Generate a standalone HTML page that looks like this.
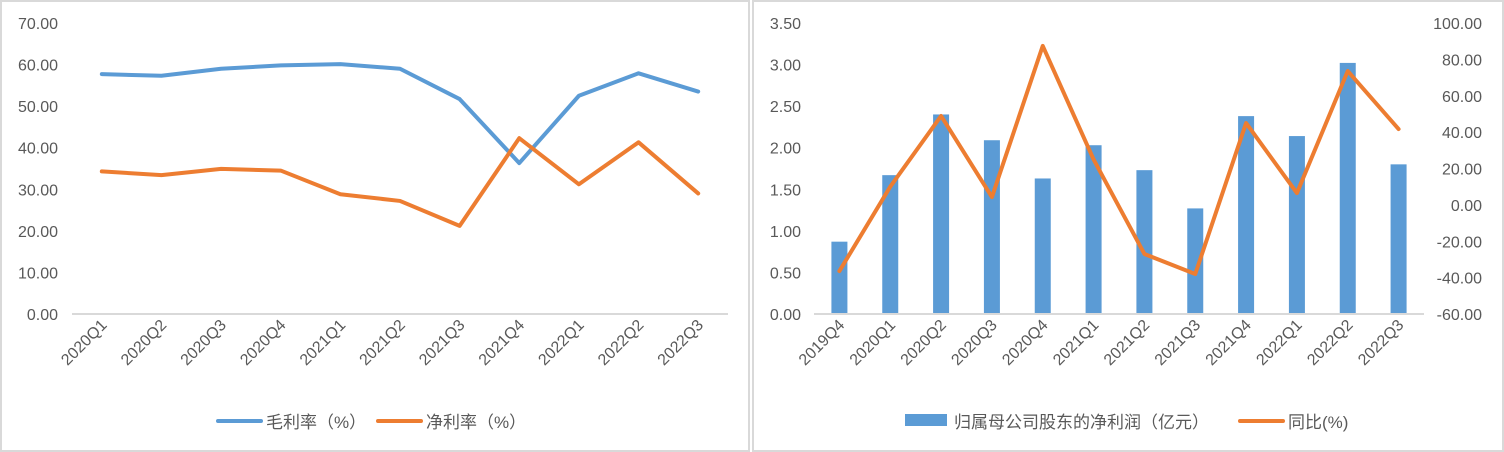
<!DOCTYPE html>
<html><head><meta charset="utf-8">
<style>
html,body{margin:0;padding:0;background:#fff;}
svg{display:block;font-family:"Liberation Sans","Noto Sans CJK SC",sans-serif;}
</style></head>
<body>
<svg id="c" width="1504" height="452" viewBox="0 0 1504 452">
<rect x="1" y="1" width="748" height="450" fill="#fff" stroke="#d9d9d9" stroke-width="2"/>
<rect x="753" y="1" width="750" height="450" fill="#fff" stroke="#d9d9d9" stroke-width="2"/>
<g id="L"></g><g id="R"></g>
<g>
<line x1="218" y1="421" x2="261" y2="421" stroke="#5b9bd5" stroke-width="4" stroke-linecap="round"/>
<text x="266" y="428" font-size="17" fill="#595959">毛利率（%）</text>
<line x1="378" y1="421" x2="421" y2="421" stroke="#ed7d31" stroke-width="4" stroke-linecap="round"/>
<text x="426" y="428" font-size="17" fill="#595959">净利率（%）</text>
</g>
<g>
<rect x="905" y="414" width="42" height="12" fill="#5b9bd5"/>
<text x="954" y="428" font-size="17" fill="#595959">归属母公司股东的净利润（亿元）</text>
<line x1="1240" y1="421" x2="1283" y2="421" stroke="#ed7d31" stroke-width="4" stroke-linecap="round"/>
<text x="1288" y="428" font-size="17" fill="#595959">同比(%)</text>
</g>
</svg>
<script>
const leftCats=["2020Q1","2020Q2","2020Q3","2020Q4","2021Q1","2021Q2","2021Q3","2021Q4","2022Q1","2022Q2","2022Q3"];
const grossMargin=[57.7,57.3,59.0,59.8,60.1,59.0,51.7,36.3,52.5,57.9,53.5];
const netMargin=[34.3,33.4,34.9,34.5,28.8,27.2,21.2,42.3,31.2,41.3,29.0];
const leftTicks=["0.00","10.00","20.00","30.00","40.00","50.00","60.00","70.00"];
const rightCats=["2019Q4","2020Q1","2020Q2","2020Q3","2020Q4","2021Q1","2021Q2","2021Q3","2021Q4","2022Q1","2022Q2","2022Q3"];
const netProfit=[0.87,1.67,2.40,2.09,1.63,2.03,1.73,1.27,2.38,2.14,3.02,1.80];
const yoy=[-36.4,10,48.9,4.3,87.4,25,-27,-38,45,6.5,73.6,41.7];
const rightTicksL=["0.00","0.50","1.00","1.50","2.00","2.50","3.00","3.50"];
const rightTicksR=["-60.00","-40.00","-20.00","0.00","20.00","40.00","60.00","80.00","100.00"];
const NS="http://www.w3.org/2000/svg";
function mk(p,t,a){const e=document.createElementNS(NS,t);for(const k in a)e.setAttribute(k,a[k]);p.appendChild(e);return e;}
const Y0=314,Y1=23;
const L=document.getElementById('L');
const lx0=72,lx1=728,lband=(lx1-lx0)/leftCats.length;
const lxs=i=>lx0+lband*(i+0.5);
const lys=v=>Y0-(v/70)*(Y0-Y1);
leftTicks.forEach(t=>{const e=mk(L,'text',{x:58,y:lys(+t)+6,'text-anchor':'end','font-size':16,fill:'#595959'});e.textContent=t;

});
let ax=mk(L,'line',{x1:lx0,x2:lx1,y1:Y0,y2:Y0,stroke:'#d9d9d9','stroke-width':2});


leftCats.forEach((c,i)=>{const x=lxs(i)+6,y=Y0+12;const e=mk(L,'text',{x:x,y:y,'text-anchor':'end','font-size':16,fill:'#595959',transform:`rotate(-45 ${x} ${y})`});e.textContent=c;

});
[[grossMargin,'#5b9bd5','gross-margin-line'],[netMargin,'#ed7d31','net-margin-line']].forEach(([d,col,n])=>{
const p=mk(L,'polyline',{points:d.map((v,i)=>lxs(i)+','+lys(v)).join(' '),fill:'none',stroke:col,'stroke-width':4,'stroke-linejoin':'round','stroke-linecap':'round'});

});
const R=document.getElementById('R');
const rx0=814,rx1=1424,rband=(rx1-rx0)/rightCats.length;
const rxs=i=>rx0+rband*(i+0.5);
const ryl=v=>Y0-(v/3.5)*(Y0-Y1);
const ryr=v=>Y0-((v+60)/160)*(Y0-Y1);
rightTicksL.forEach(t=>{const e=mk(R,'text',{x:801,y:ryl(+t)+6,'text-anchor':'end','font-size':16,fill:'#595959'});e.textContent=t;

});
rightTicksR.forEach(t=>{const e=mk(R,'text',{x:1482,y:ryr(+t)+6,'text-anchor':'end','font-size':16,fill:'#595959'});e.textContent=t;

});
netProfit.forEach((v,i)=>{const b=mk(R,'rect',{x:rxs(i)-8,y:ryl(v),width:16,height:Y0-ryl(v),fill:'#5b9bd5'});

});
ax=mk(R,'line',{x1:rx0,x2:rx1,y1:Y0,y2:Y0,stroke:'#d9d9d9','stroke-width':2});


rightCats.forEach((c,i)=>{const x=rxs(i)+6,y=Y0+12;const e=mk(R,'text',{x:x,y:y,'text-anchor':'end','font-size':16,fill:'#595959',transform:`rotate(-45 ${x} ${y})`});e.textContent=c;

});
const yl=mk(R,'polyline',{points:yoy.map((v,i)=>rxs(i)+','+ryr(v)).join(' '),fill:'none',stroke:'#ed7d31','stroke-width':4,'stroke-linejoin':'round','stroke-linecap':'round'});


</script>
</body></html>
